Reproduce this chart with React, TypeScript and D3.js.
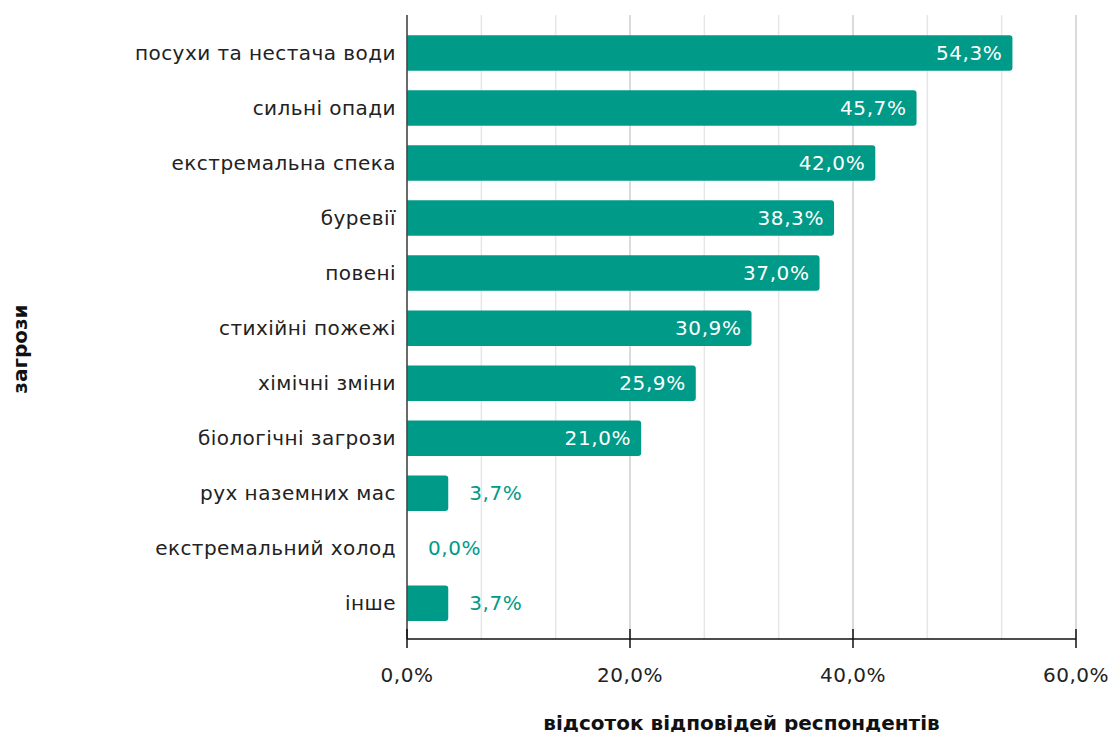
import React from "react";
import * as d3 from "d3";

const categories = [
  "посухи та нестача води",
  "сильні опади",
  "екстремальна спека",
  "буревії",
  "повені",
  "стихійні пожежі",
  "хімічні зміни",
  "біологічні загрози",
  "рух наземних мас",
  "екстремальний холод",
  "інше",
];
const values = [54.3, 45.7, 42.0, 38.3, 37.0, 30.9, 25.9, 21.0, 3.7, 0.0, 3.7];
const majorTicks = [0, 20, 40, 60];
const xTitle = "відсоток відповідей респондентів";
const yTitle = "загрози";

const W = 1111;
const H = 732;
const FONT = "'DejaVu Sans', Verdana, sans-serif";
const TEAL = "#009a88";

const fmt = (v: number) => v.toFixed(1).replace(".", ",") + "%";

export default function App() {
  const x = d3.scaleLinear().domain([0, 60]).range([407, 1076]);
  const y = d3
    .scaleBand<string>()
    .domain(categories)
    .range([25.3, 631])
    .paddingInner(0.355)
    .paddingOuter(0.18);
  const plotTop = 15;
  const plotBottom = 639;
  const minorTicks = d3.range(0, 61, 20 / 3);

  const barPath = (x0: number, x1: number, y0: number, h: number) => {
    const w = x1 - x0;
    if (w <= 0) return "";
    const r = Math.min(3, w / 2, h / 2);
    return `M${x0},${y0}H${x1 - r}A${r},${r} 0 0 1 ${x1},${y0 + r}V${y0 + h - r}A${r},${r} 0 0 1 ${x1 - r},${y0 + h}H${x0}Z`;
  };

  return (
    <svg width={W} height={H} style={{ display: "block", position: "absolute", left: 0, top: 0 }} fontFamily={FONT}>
      {minorTicks.map((t, i) => (
        <line
          key={"g" + i}
          x1={x(t)}
          x2={x(t)}
          y1={plotTop}
          y2={plotBottom}
          stroke={i % 3 === 0 ? "#cfcfcf" : "#e6e6e6"}
          strokeWidth={1.5}
        />
      ))}
      {categories.map((c, i) => {
        const v = values[i];
        const y0 = y(c)!;
        const h = y.bandwidth();
        const inside = x(v) - x(0) > 100;
        return (
          <g key={c}>
            <path d={barPath(x(0), x(v), y0, h)} fill={TEAL} />
            <text
              x={396}
              y={y0 + h / 2}
              dy="0.35em"
              textAnchor="end"
              fontSize={20}
              letterSpacing={0.45}
              fill="#222"
            >
              {c}
            </text>
            <text
              x={inside ? x(v) - 10 : x(v) + 21}
              y={y0 + h / 2}
              dy="0.35em"
              textAnchor={inside ? "end" : "start"}
              fontSize={20}
              letterSpacing={0.6}
              fill={inside ? "#fff" : TEAL}
            >
              {fmt(v)}
            </text>
          </g>
        );
      })}
      <line x1={407} x2={407} y1={plotTop} y2={plotBottom} stroke="#444" strokeWidth={1.5} />
      <line x1={407} x2={1076} y1={plotBottom} y2={plotBottom} stroke="#111" strokeWidth={1.5} />
      {majorTicks.map((t) => (
        <g key={"t" + t}>
          <line x1={x(t)} x2={x(t)} y1={629} y2={648} stroke="#111" strokeWidth={1.5} />
          <text x={x(t)} y={682} textAnchor="middle" fontSize={20} letterSpacing={0.5} fill="#222">
            {fmt(t)}
          </text>
        </g>
      ))}
      <text x={(407 + 1076) / 2} y={730} textAnchor="middle" fontSize={20} fontWeight="bold" fill="#111">
        {xTitle}
      </text>
      <text
        transform={`translate(27,349) rotate(-90)`}
        textAnchor="middle"
        fontSize={20}
        fontWeight="bold"
        fill="#111"
      >
        {yTitle}
      </text>
    </svg>
  );
}
